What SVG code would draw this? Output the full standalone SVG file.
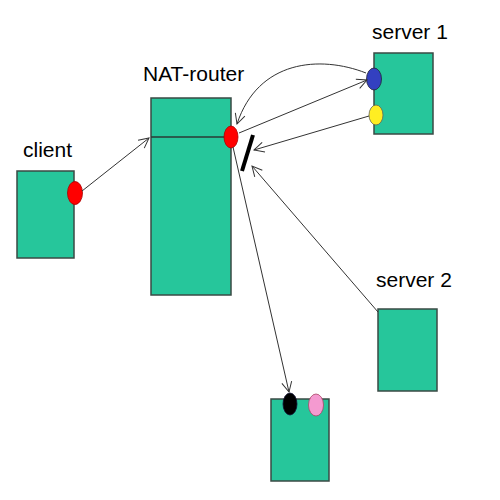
<svg xmlns="http://www.w3.org/2000/svg" width="500" height="500" viewBox="0 0 500 500">
<style>
.box{fill:#26C69B;stroke:#3a4a44;stroke-width:1.5}
.lbl{font-family:"Liberation Sans",Arial,sans-serif;font-size:21px;fill:#000}
.con{fill:none;stroke:#333;stroke-width:1}
</style>
<defs>
<marker id="ah" viewBox="0 0 12 12" refX="11" refY="6" markerWidth="12" markerHeight="12" markerUnits="userSpaceOnUse" orient="auto">
<path d="M1,1 L11,6 L1,11" fill="none" stroke="#333" stroke-width="1"/>
</marker>
</defs>
<rect width="500" height="500" fill="#fff"/>
<g id="client">
<rect class="box" x="17" y="171" width="57" height="87"/>
<ellipse cx="75" cy="193" rx="7.5" ry="11.5" fill="#f00" stroke="#a00" stroke-width="0.8"/>
<text class="lbl" x="23" y="157">client</text>
</g>
<g id="nat-router">
<rect class="box" x="151" y="98" width="80" height="197"/>
<line x1="151" y1="137" x2="231" y2="137" stroke="#2a3a34" stroke-width="1.5"/>
<ellipse cx="231" cy="137" rx="7" ry="11" fill="#f00" stroke="#a00" stroke-width="0.8"/>
<text class="lbl" x="143" y="81">NAT-router</text>
</g>
<g id="server1">
<rect class="box" x="374" y="53" width="59" height="81"/>
<ellipse cx="374" cy="79" rx="7.5" ry="11" fill="#3340c0" stroke="#223" stroke-width="0.8"/>
<ellipse cx="376" cy="115" rx="7" ry="10" fill="#ffee22" stroke="#665" stroke-width="0.8"/>
<text class="lbl" x="372" y="39">server 1</text>
</g>
<g id="server2">
<rect class="box" x="378" y="309" width="59" height="82"/>
<text class="lbl" x="376" y="287">server 2</text>
</g>
<g id="host">
<rect class="box" x="271" y="399" width="58" height="82"/>
<ellipse cx="290" cy="404" rx="7" ry="11" fill="#000" stroke="#113" stroke-width="0.8"/>
<ellipse cx="316" cy="405" rx="7.5" ry="11" fill="#f49ad0" stroke="#a46" stroke-width="0.8"/>
</g>
<g id="blocker">
<line x1="253" y1="135" x2="242" y2="171" stroke="#000" stroke-width="4"/>
</g>
<g id="connectors">
<line class="con" x1="82" y1="191" x2="149" y2="138" marker-end="url(#ah)"/>
<path class="con" d="M366,73 C320,55 258,60 237,124" marker-end="url(#ah)"/>
<line class="con" x1="239" y1="133" x2="367" y2="80" marker-end="url(#ah)"/>
<line class="con" x1="369" y1="116" x2="254" y2="150" marker-end="url(#ah)"/>
<line class="con" x1="378" y1="312" x2="252" y2="166" marker-end="url(#ah)"/>
<line class="con" x1="233" y1="147" x2="289" y2="392" marker-end="url(#ah)"/>
</g>
</svg>
